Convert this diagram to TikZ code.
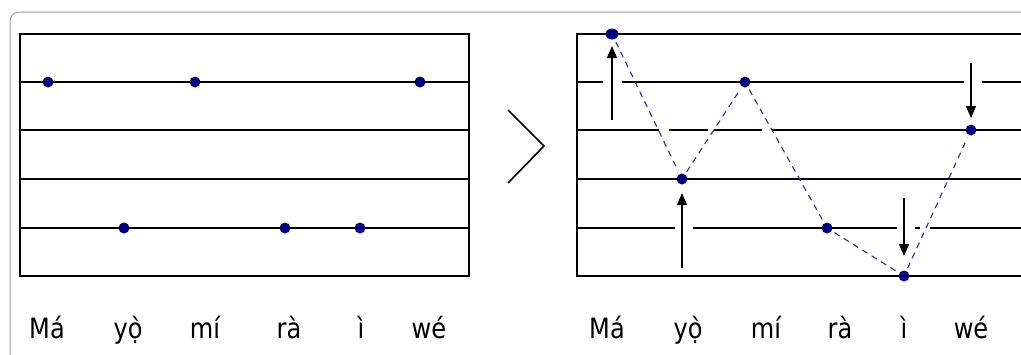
\documentclass[tikz,border=0pt]{standalone}
\usepackage{graphicx}
\usepackage{fontspec}
\setmainfont{DejaVu Sans}
\usetikzlibrary{arrows.meta,shapes.geometric}
\definecolor{dotblue}{HTML}{000080}
\definecolor{dashblue}{HTML}{2A2A9C}
\begin{document}
\begin{tikzpicture}[x=1pt,y=-1pt,
  staff/.style={line width=2.8pt, black},
  dotnode/.style={circle, fill=dotblue, inner sep=0pt, minimum size=11pt},
  dashline/.style={dashblue, line width=1.1pt, dash pattern=on 6pt off 5pt},
  pitcharrow/.style={line width=1.3pt, -{Triangle[length=12pt,width=10pt]}},
  syl/.style={anchor=base, inner sep=0pt, font=\fontsize{28}{30}\selectfont},
  frame/.style={draw=black!38, line width=1pt, rounded corners=9pt}]
\clip (0,0) rectangle (1021,354);
\fill[white] (0,0) rectangle (1021,354);
\draw[frame] (10,420) -- (10,12) -- (1120,12);

% left staff
\draw[staff] (20,34) rectangle (469,276);
\foreach \y in {82,130,179,228} \draw[staff] (20,\y) -- (469,\y);

% chevron
\draw[line width=1.6pt] (508,110) -- (544,146) -- (508,183);

% right staff
\draw[staff] (1040,34) -- (577,34) -- (577,276) -- (1040,276);
\draw[staff] (577,82) -- (603,82) (622,82) -- (964,82) (982,82) -- (1040,82);
\draw[staff] (577,130) -- (659,130) (669,130) -- (708,130) (714,130) -- (762,130) (772,130) -- (1040,130);
\draw[staff] (577,179) -- (1040,179);
\draw[staff] (577,228) -- (675,228) (693,228) -- (897,228) (915,228) -- (920,228) (930,228) -- (1040,228);

% left dots
\node[dotnode] (l1) at (48,82) {};
\node[dotnode] (l2) at (124,228) {};
\node[dotnode] (l3) at (195,82) {};
\node[dotnode] (l4) at (285,228) {};
\node[dotnode] (l5) at (360,228) {};
\node[dotnode] (l6) at (420,82) {};

% right dots
\node[dotnode, ellipse, minimum width=13pt, minimum height=11pt] (r1) at (612,34) {};
\node[dotnode] (r2) at (682,179) {};
\node[dotnode] (r3) at (745,82) {};
\node[dotnode] (r4) at (827,228) {};
\node[dotnode] (r5) at (904,276) {};
\node[dotnode] (r6) at (971,130) {};

% dashed contour
\draw[dashline, shorten <=3pt, shorten >=3pt] (r1) -- (r2);
\draw[dashline, shorten <=3pt, shorten >=3pt] (r2) -- (r3);
\draw[dashline, shorten <=3pt, shorten >=3pt] (r3) -- (r4);
\draw[dashline, shorten <=3pt, shorten >=3pt] (r4) -- (r5);
\draw[dashline, shorten <=3pt, shorten >=3pt] (r5) -- (r6);

% arrows
\coordinate (a1s) at (612,120); \coordinate (a1e) at (612,46);
\coordinate (a2s) at (682,268); \coordinate (a2e) at (682,193);
\coordinate (a3s) at (971,63);  \coordinate (a3e) at (971,118);
\coordinate (a4s) at (904,198); \coordinate (a4e) at (904,256);
\draw[pitcharrow] (a1s) -- (a1e);
\draw[pitcharrow] (a2s) -- (a2e);
\draw[pitcharrow] (a3s) -- (a3e);
\draw[pitcharrow] (a4s) -- (a4e);

% labels left
\node[syl] (t1) at (47,338) {\scalebox{0.86}[1]{Má}};
\node[syl] (t2) at (128,338) {\scalebox{0.86}[1]{yọ̀}};
\node[syl] (t3) at (205,338) {\scalebox{0.86}[1]{mí}};
\node[syl] (t4) at (289,338) {\scalebox{0.86}[1]{rà}};
\node[syl] (t5) at (361,338) {\scalebox{0.86}[1]{ì}};
\node[syl] (t6) at (429,338) {\scalebox{0.86}[1]{wé}};
% labels right
\node[syl] (u1) at (607,338) {\scalebox{0.86}[1]{Má}};
\node[syl] (u2) at (688,338) {\scalebox{0.86}[1]{yọ̀}};
\node[syl] (u3) at (766,338) {\scalebox{0.86}[1]{mí}};
\node[syl] (u4) at (840,338) {\scalebox{0.86}[1]{rà}};
\node[syl] (u5) at (904,338) {\scalebox{0.86}[1]{ì}};
\node[syl] (u6) at (971,338) {\scalebox{0.86}[1]{wé}};
\end{tikzpicture}
\end{document}
